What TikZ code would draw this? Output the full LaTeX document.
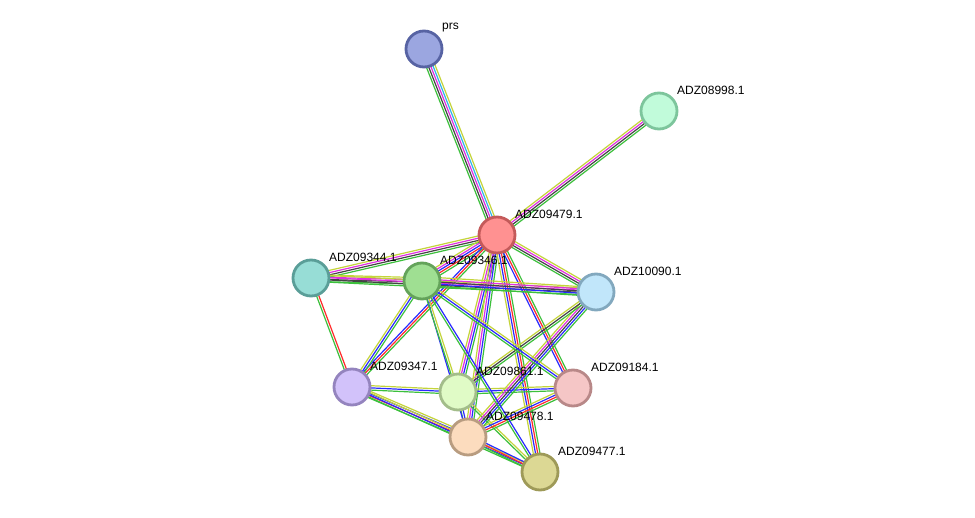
\documentclass[tikz,border=0pt]{standalone}
\usepackage{fontspec}
\setmainfont{Liberation Sans}
\usetikzlibrary{calc,backgrounds}
\definecolor{eG}{HTML}{3CC03C}
\definecolor{eR}{HTML}{FF2A2A}
\definecolor{eB}{HTML}{2A2AFF}
\definecolor{eK}{HTML}{444444}
\definecolor{eM}{HTML}{E030E0}
\definecolor{eC}{HTML}{30B4E8}
\definecolor{eY}{HTML}{C4D43A}
\newcommand{\edg}[3]{%
  \foreach \cc [count=\i] in {#3} {\xdef\nn{\i}}%
  \foreach \cc [count=\i] in {#3} {%
    \pgfmathsetmacro\off{(\i-(\nn+1)/2)*2.2}%
    \begin{pgfonlayer}{background}
    \draw[\cc, line width=1.2pt] ($(#1)!\off pt!90:(#2)$) -- ($(#2)!\off pt!-90:(#1)$);
    \end{pgfonlayer}
  }%
}
\tikzset{
  prot/.style={circle, minimum size=36pt, inner sep=0pt, line width=2.8pt},
  lab/.style={anchor=west, font=\fontsize{12pt}{12pt}\selectfont, inner sep=0pt}
}
\begin{document}
\begin{tikzpicture}[x=1pt,y=-1pt]
\useasboundingbox (0,0) rectangle (975,518);
\begin{pgfonlayer}{background}
\fill[white] (0,0) rectangle (975,518);
\end{pgfonlayer}
\node[prot, fill={rgb,255:red,155;green,166;blue,224}, draw={rgb,255:red,87;green,99;blue,163}] (prs) at (424,49) {};
\node[prot, fill={rgb,255:red,193;green,251;blue,218}, draw={rgb,255:red,125;green,197;blue,156}] (n998) at (659,111) {};
\node[prot, fill={rgb,255:red,255;green,145;blue,145}, draw={rgb,255:red,196;green,90;blue,90}] (n79) at (497,235) {};
\node[prot, fill={rgb,255:red,151;green,221;blue,214}, draw={rgb,255:red,90;green,158;blue,152}] (n344) at (311,278) {};
\node[prot, fill={rgb,255:red,159;green,223;blue,146}, draw={rgb,255:red,100;green,163;blue,90}] (n346) at (422,281) {};
\node[prot, fill={rgb,255:red,193;green,230;blue,250}, draw={rgb,255:red,130;green,168;blue,190}] (n10090) at (596,292) {};
\node[prot, fill={rgb,255:red,210;green,194;blue,250}, draw={rgb,255:red,148;green,132;blue,190}] (n347) at (352,387) {};
\node[prot, fill={rgb,255:red,224;green,251;blue,198}, draw={rgb,255:red,163;green,189;blue,138}] (n861) at (458,392) {};
\node[prot, fill={rgb,255:red,245;green,198;blue,198}, draw={rgb,255:red,184;green,136;blue,136}] (n184) at (573,388) {};
\node[prot, fill={rgb,255:red,252;green,220;blue,190}, draw={rgb,255:red,184;green,156;blue,128}] (n478) at (468,437) {};
\node[prot, fill={rgb,255:red,220;green,216;blue,148}, draw={rgb,255:red,158;green,154;blue,88}] (n477) at (540,472) {};
\node[lab] (lprs) at (442,28) {prs};
\node[lab] (l998) at (677,90) {ADZ08998.1};
\node[lab] (l79) at (515,214) {ADZ09479.1};
\node[lab] (l344) at (329,257) {ADZ09344.1};
\node[lab] (l346) at (440,260) {ADZ09346.1};
\node[lab] (l10090) at (614,271) {ADZ10090.1};
\node[lab] (l347) at (370,366) {ADZ09347.1};
\node[lab] (l861) at (476,371) {ADZ09861.1};
\node[lab] (l184) at (591,367) {ADZ09184.1};
\node[lab] (l478) at (486,416) {ADZ09478.1};
\node[lab] (l477) at (558,451) {ADZ09477.1};
\edg{prs}{n79}{eG,eK,eM,eC,eY}
\edg{n79}{n998}{eG,eK,eM,eY}
\edg{n344}{n79}{eG,eK,eM,eY}
\edg{n346}{n79}{eG,eR,eB,eM,eY}
\edg{n79}{n10090}{eG,eK,eM,eY}
\edg{n347}{n79}{eG,eR,eB}
\edg{n861}{n79}{eG,eB,eM,eY}
\edg{n478}{n79}{eG,eB,eM,eY}
\edg{n477}{n79}{eG,eR,eB,eY}
\edg{n184}{n79}{eG,eR,eB}
\edg{n344}{n346}{eG,eK,eM,eY}
\edg{n344}{n10090}{eG,eK,eM,eY}
\edg{n346}{n10090}{eG,eB,eK,eM,eY}
\edg{n344}{n347}{eG,eR}
\edg{n347}{n346}{eG,eB,eY}
\edg{n347}{n861}{eG,eB,eY}
\edg{n347}{n478}{eG,eR,eB,eY}
\edg{n347}{n477}{eG,eB,eY}
\edg{n861}{n184}{eG,eB,eY}
\edg{n861}{n478}{eG,eB}
\edg{n861}{n477}{eG,eY}
\edg{n478}{n184}{eG,eR,eB,eY}
\edg{n478}{n10090}{eG,eB,eK,eM,eY}
\edg{n861}{n10090}{eG,eK,eY}
\edg{n346}{n184}{eG,eB,eY}
\edg{n346}{n478}{eB}
\edg{n346}{n477}{eG,eB}
\edg{n346}{n861}{eG,eY}
\edg{n478}{n477}{eG,eR,eB}
\end{tikzpicture}
\end{document}
